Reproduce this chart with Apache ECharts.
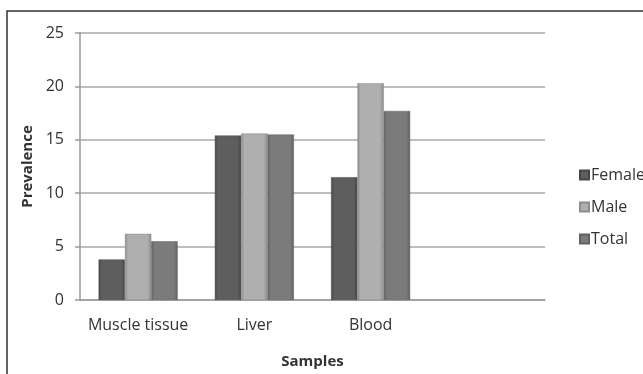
<!DOCTYPE html>
<html>
<head>
<meta charset="utf-8">
<script src="https://cdn.jsdelivr.net/npm/echarts@6/dist/echarts.min.js"></script>
<style>
  html, body { margin: 0; padding: 0; background: #ffffff; }
  #chart { width: 643px; height: 374px; }
</style>
</head>
<body>
<div id="chart"></div>
<script>
// Prevalence by sample type and sex
var categories = ['Muscle tissue', 'Liver', 'Blood', ''];
var seriesNames = ['Female', 'Male', 'Total'];
var female = [3.8, 15.4, 11.5, null];
var male = [6.2, 15.6, 20.3, null];
var total = [5.5, 15.5, 17.7, null];
var yTicks = [0, 5, 10, 15, 20, 25];

var FONT = '"Open Sans", "Liberation Sans", sans-serif';

// Bevelled-looking fill: darker edges, lighter middle
function shade(edge, mid) {
  return new echarts.graphic.LinearGradient(0, 0, 1, 0, [
    { offset: 0, color: edge },
    { offset: 0.12, color: mid },
    { offset: 0.85, color: mid },
    { offset: 1, color: edge }
  ]);
}

var palette = [
  { edge: '#474747', mid: '#5e5e5e' },
  { edge: '#8c8c8c', mid: '#afafaf' },
  { edge: '#626262', mid: '#7b7b7b' }
];
var values = [female, male, total];

var chart = echarts.init(document.getElementById('chart'), null, { renderer: 'canvas' });

var option = {
  backgroundColor: '#ffffff',
  animation: false,
  textStyle: { fontFamily: FONT },
  graphic: [{
    type: 'rect',
    shape: { x: 7, y: 11, width: 660, height: 400 },
    style: { fill: 'none', stroke: '#333333', lineWidth: 1.5 },
    silent: true,
    z: -1
  }],
  grid: { left: 80, right: 98, top: 33, bottom: 65 },
  legend: {
    orient: 'vertical',
    left: 574,
    top: 162,
    itemWidth: 9,
    itemHeight: 9,
    itemGap: 16,
    icon: 'rect',
    textStyle: { fontFamily: FONT, fontSize: 16, color: '#333333', padding: [0, 0, 0, -3] },
    data: seriesNames
  },
  xAxis: {
    type: 'category',
    data: categories,
    name: 'Samples',
    nameLocation: 'middle',
    nameGap: 54,
    nameTextStyle: { fontFamily: FONT, fontSize: 15, fontWeight: 'bold', color: '#333333' },
    axisLine: { lineStyle: { color: '#9a9a9a', width: 1.5 } },
    axisTick: { show: false },
    axisLabel: { interval: 0, fontFamily: FONT, fontSize: 16, color: '#333333', margin: 17 }
  },
  yAxis: {
    type: 'value',
    min: 0,
    max: 25,
    interval: 5,
    name: 'Prevalence',
    nameLocation: 'middle',
    nameGap: 44,
    nameTextStyle: { fontFamily: FONT, fontSize: 15, fontWeight: 'bold', color: '#333333' },
    axisLine: { show: true, lineStyle: { color: '#9a9a9a', width: 1.5 } },
    axisTick: { show: true, length: 5, lineStyle: { color: '#9a9a9a', width: 1.5 } },
    axisLabel: {
      fontFamily: FONT, fontSize: 16, color: '#333333', margin: 16,
      formatter: function (v) { return yTicks.indexOf(v) >= 0 ? String(v) : ''; }
    },
    splitLine: { lineStyle: { color: '#a8a8a8', width: 1.5 } }
  },
  series: seriesNames.map(function (name, i) {
    return {
      name: name,
      type: 'bar',
      data: values[i],
      barGap: '0%',
      barCategoryGap: '32%',
      itemStyle: {
        color: shade(palette[i].edge, palette[i].mid),
        borderColor: palette[i].edge,
        borderWidth: 0.5
      }
    };
  })
};

chart.setOption(option);
</script>
</body>
</html>
